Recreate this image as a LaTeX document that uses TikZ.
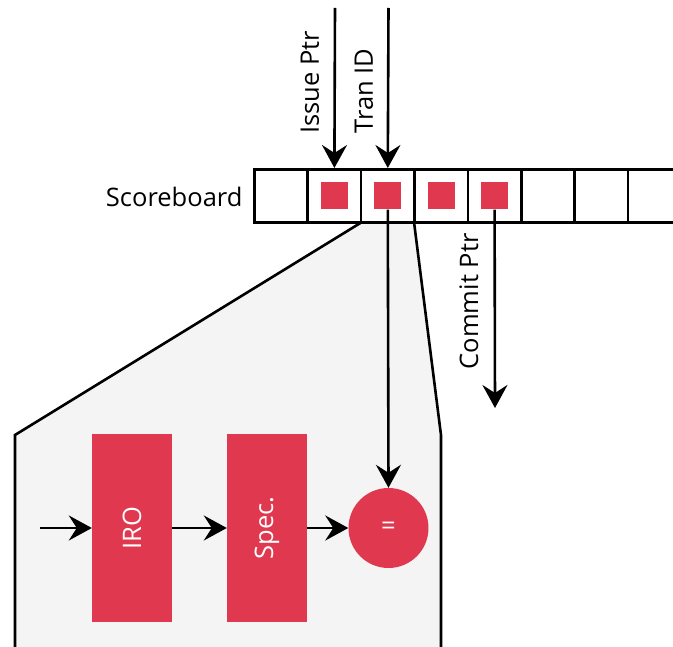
\documentclass[tikz,border=0pt]{standalone}
\usepackage{fontspec}
\setmainfont{Open Sans}
\usetikzlibrary{arrows.meta}
\definecolor{blockred}{HTML}{E0384F}
\definecolor{panelgray}{HTML}{F4F4F4}
\tikzset{
  wire/.style={line width=2.6pt, -{Stealth[length=23pt,width=25pt,inset=8pt]}},
  cellbox/.style={draw, line width=2.6pt, minimum width=53.4pt, minimum height=53.4pt, inner sep=0pt},
  redsq/.style={fill=blockred, minimum width=27pt, minimum height=27pt, inner sep=0pt},
  block/.style={fill=blockred, minimum width=80pt, minimum height=187pt, inner sep=0pt, text=white},
  lbl/.style={font=\fontsize{25.5}{30}\selectfont},
}
\begin{document}
\begin{tikzpicture}[x=1pt,y=-1pt]
\useasboundingbox (0,0) rectangle (673,647);

% zoom-in panel behind everything
\fill[panelgray] (15,660) -- (15,435) -- (362,222) -- (414,222) -- (441,435) -- (441,660) -- cycle;
\draw[line width=2.6pt] (15,660) -- (15,435) -- (362,222);
\draw[line width=2.6pt] (414,222) -- (441,435) -- (441,660);

% scoreboard cells
\foreach \i in {0,...,7} {
  \node[cellbox] (c\i) at ({281+53.4*\i},196) {};
}
\node[lbl, anchor=east] (sb) at (246,197) {Scoreboard};

% occupied entries
\node[redsq] (s1) at (c1) {};
\node[redsq] (s2) at (c2) {};
\node[redsq] (s3) at (c3) {};
\node[redsq] (s4) at (c4) {};

% pointers into the scoreboard
\coordinate (ip) at (335,8);
\coordinate (tid) at (388.5,8);
\draw[wire] (ip) -- (c1.north);
\draw[wire] (tid) -- (c2.north);
\node[lbl, rotate=90, anchor=west] (ipl) at (310,137) {Issue Ptr};
\node[lbl, rotate=90, anchor=west] (tidl) at (364,137) {Tran ID};

% commit pointer
\coordinate (cp) at (495,408);
\draw[wire] (s4.south) -- (cp);
\node[lbl, rotate=90, anchor=east] (cpl) at (469,230) {Commit Ptr};

% pipeline inside the panel
\coordinate (in) at (40,528);
\node[block] (iro) at (132,528) {};
\node[block] (spec) at (267,528) {};
\node[lbl, rotate=90, text=white] (irol) at (iro) {IRO};
\node[lbl, rotate=90, text=white] (specl) at (spec) {Spec.};
\node[circle, fill=blockred, minimum size=80pt, inner sep=0pt, text=white, lbl] (eq) at (388.5,528) {=};

\draw[wire] (in) -- (iro.west);
\draw[wire] (iro.east) -- (spec.west);
\draw[wire] (spec.east) -- (eq.west);
\draw[wire] (s2.south) -- (eq.north);
\end{tikzpicture}
\end{document}
